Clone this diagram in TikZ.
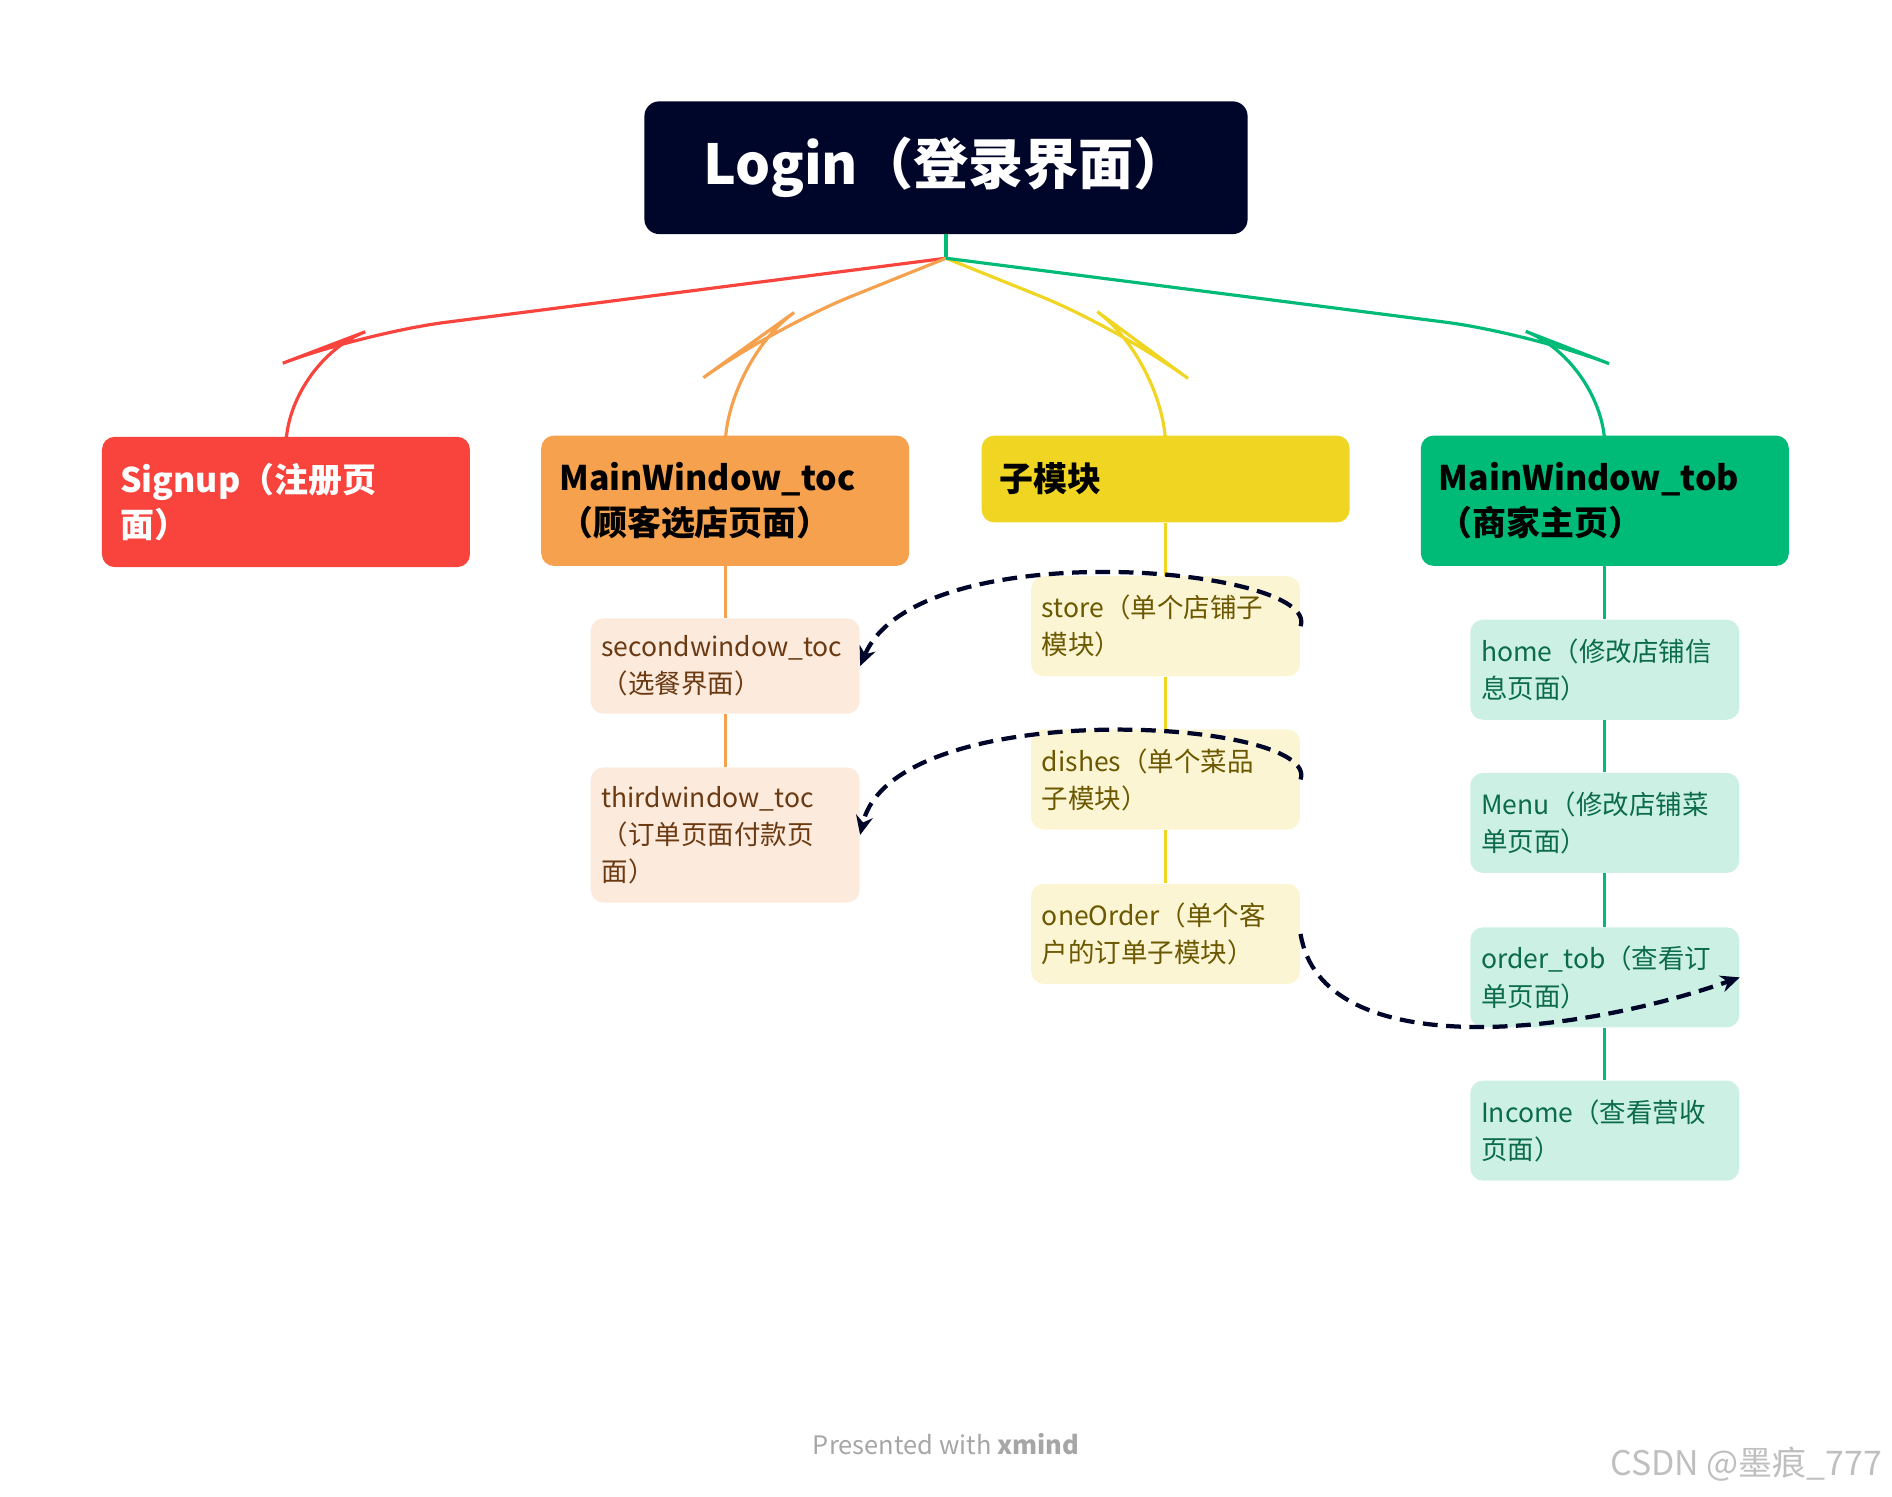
\documentclass[tikz,border=0pt]{standalone}
\usepackage{fontspec}
\setmainfont{Noto Sans CJK SC}
\usetikzlibrary{arrows.meta}
\definecolor{navy}{HTML}{00052A}
\definecolor{cred}{HTML}{F9433D}
\definecolor{corange}{HTML}{F5A14E}
\definecolor{cyellow}{HTML}{F0D523}
\definecolor{cgreen}{HTML}{00BA78}
\definecolor{lorange}{HTML}{FCEADC}
\definecolor{lyellow}{HTML}{FCF5D4}
\definecolor{lgreen}{HTML}{CCF1E4}
\definecolor{torange}{HTML}{6B3A12}
\definecolor{tyellow}{HTML}{6B5800}
\definecolor{tgreen}{HTML}{0B6B4A}
\tikzset{
 main/.style={rounded corners=6pt,minimum width=6.1cm,minimum height=2.16cm,text width=5.5cm,align=left,font=\fontsize{16}{21}\selectfont\bfseries,inner sep=0pt},
 sub/.style={rounded corners=6pt,minimum width=4.46cm,minimum height=1.66cm,text width=4.1cm,align=left,font=\fontsize{12.5}{17.5}\selectfont,inner sep=0pt},
 link/.style={navy,line width=2pt,dash pattern=on 7pt off 4pt,-{Stealth[length=9pt,width=8pt]}},
 br/.style={line width=1.5pt,rounded corners=40pt}
}
\begin{document}
\begin{tikzpicture}[x=0.02cm,y=-0.02cm]
\useasboundingbox (0,0) rectangle (1568,1240);
\node[fill=navy,text=white,rounded corners=7pt,minimum width=10cm,minimum height=2.2cm,font=\fontsize{26}{30}\selectfont\bfseries] (root) at (784,139) {Login（登录界面）};
\node[main,fill=cred,text=white] (signup) at (237,416) {Signup（注册页\\面）};
\node[main,fill=corange,text=black,minimum height=2.16cm] (toc) at (601,415) {MainWindow\_toc\\（顾客选店页面）};
\node[main,fill=cyellow,text=black,minimum height=1.44cm] (sm) at (966,397) {子模块};
\node[main,fill=cgreen,text=black] (tob) at (1330,415) {MainWindow\_tob\\（商家主页）};
\coordinate (j) at (784,214);
\draw[cgreen,line width=1.5pt] (root.south) -- (j);
\draw[br,cred] (j) -- (300,276) -- (237,300) -- (signup.north);
\draw[br,corange] (j) -- (640,272) -- (601,300) -- (toc.north);
\draw[br,cyellow] (j) -- (928,272) -- (966,300) -- (sm.north);
\draw[br,cgreen] (j) -- (1268,276) -- (1330,300) -- (tob.north);
% children
\node[sub,fill=lorange,text=torange,minimum height=1.58cm] (s2) at (601,552) {secondwindow\_toc\\（选餐界面）};
\node[sub,fill=lorange,text=torange,minimum height=2.24cm] (s3) at (601,692) {thirdwindow\_toc\\（订单页面付款页\\面）};
\node[sub,fill=lyellow,text=tyellow] (st) at (966,519) {store（单个店铺子\\模块）};
\node[sub,fill=lyellow,text=tyellow] (di) at (966,646) {dishes（单个菜品\\子模块）};
\node[sub,fill=lyellow,text=tyellow] (oo) at (966,774) {oneOrder（单个客\\户的订单子模块）};
\node[sub,fill=lgreen,text=tgreen] (ho) at (1330,555) {home（修改店铺信\\息页面）};
\node[sub,fill=lgreen,text=tgreen] (me) at (1330,682) {Menu（修改店铺菜\\单页面）};
\node[sub,fill=lgreen,text=tgreen] (ot) at (1330,810) {order\_tob（查看订\\单页面）};
\node[sub,fill=lgreen,text=tgreen] (in) at (1330,937) {Income（查看营收\\页面）};
\begin{scope}[on background layer/.try]
\end{scope}
\draw[corange,line width=1.5pt] (toc.south) -- (s2.north) (s2.south) -- (s3.north);
\draw[cyellow,line width=1.5pt] (sm.south) -- (st.north) (st.south) -- (di.north) (di.south) -- (oo.north);
\draw[cgreen,line width=1.5pt] (tob.south) -- (ho.north) (ho.south) -- (me.north) (me.south) -- (ot.north) (ot.south) -- (in.north);
\draw[link] (st.east) .. controls (1095,470) and (760,440) .. (s2.east);
\draw[link] (di.east) .. controls (1095,595) and (740,575) .. (s3.east);
\draw[link] (oo.east) .. controls (1095,880) and (1300,860) .. (ot.east);
\node[text=black!35,font=\fontsize{12}{14}\selectfont] (ft) at (784,1197) {Presented with \textbf{xmind}};
\node[text=black!25,font=\fontsize{16}{18}\selectfont,anchor=east] (wm) at (1566,1213) {CSDN @墨痕\_777};
\end{tikzpicture}
\end{document}
